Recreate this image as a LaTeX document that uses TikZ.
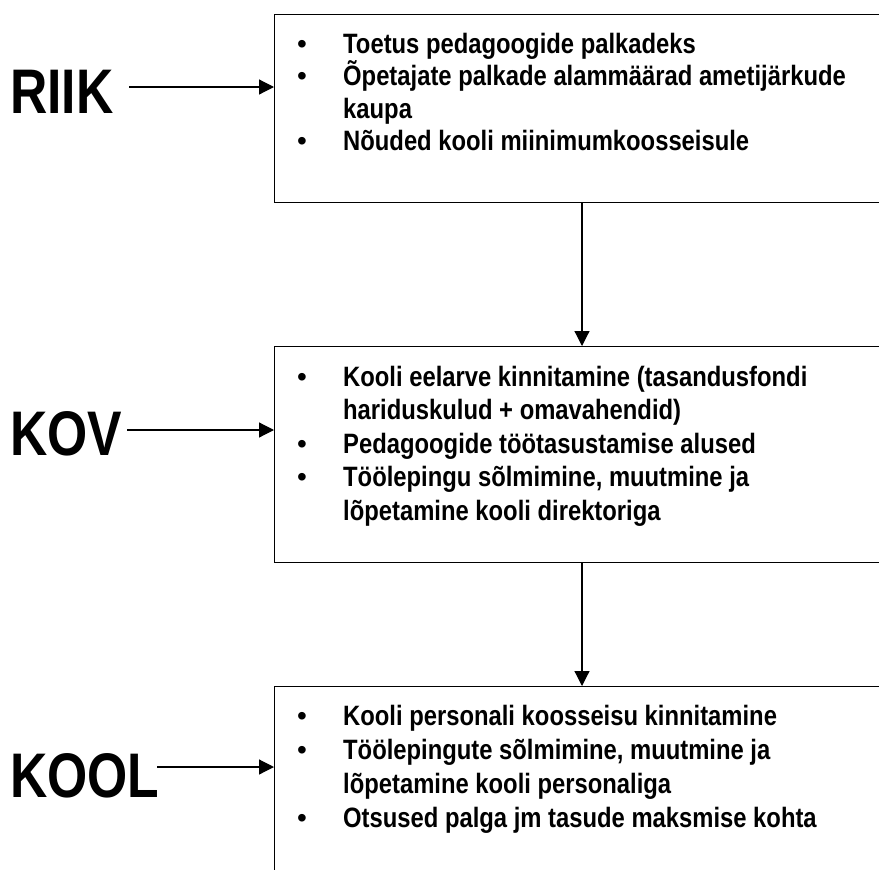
\documentclass[tikz,border=0pt]{standalone}
\usepackage{fontspec}
\usetikzlibrary{arrows.meta}
\newfontfamily\bodyfont[FakeStretch=0.85]{Liberation Sans Bold}
\newfontfamily\labelfont[FakeStretch=0.82]{Liberation Sans Bold}
\newfontfamily\bulletfont{Liberation Sans}
\newcommand\bitem[1]{\hbox{\makebox[46pt][l]{\bulletfont •}\bodyfont #1}}
\newcommand\bcont[1]{\hbox{\hspace*{46pt}\bodyfont #1}}
\newcommand\blist[2]{\vtop{\baselineskip=#1\lineskiplimit=-100pt\lineskip=0pt #2}}
\tikzset{
  levelbox/.style={draw, line width=1.2pt, anchor=north west, inner sep=0pt, minimum width=700pt},
  levellabel/.style={anchor=base west, inner sep=0pt, font=\fontsize{63pt}{63pt}\labelfont},
  itemtext/.style={anchor=base west, inner sep=0pt, font=\fontsize{28pt}{33pt}\selectfont},
  arr/.style={line width=1.2pt, -{Triangle[length=15pt,width=15pt]}}
}
\begin{document}
\begin{tikzpicture}[x=1pt,y=-1pt]
\useasboundingbox (0,0) rectangle (879,870);
\clip (0,0) rectangle (879,870);
% boxes
\node[levelbox, minimum height=188pt] (riikbox) at (274,14) {};
\node[levelbox, minimum height=216pt] (kovbox) at (274,346) {};
\node[levelbox, minimum height=300pt] (koolbox) at (274,686) {};
% labels
\node[levellabel] (riik) at (10,113) {RIIK};
\node[levellabel] (kov) at (10,455) {KOV};
\node[levellabel] (kool) at (10,797) {KOOL};
% texts
\node[itemtext] (riiktext) at (297,53) {\blist{32.5pt}{%
  \bitem{Toetus pedagoogide palkadeks}
  \bitem{Õpetajate palkade alammäärad ametijärkude}
  \bcont{kaupa}
  \bitem{Nõuded kooli miinimumkoosseisule}}};
\node[itemtext] (kovtext) at (297,386) {\blist{33.5pt}{%
  \bitem{Kooli eelarve kinnitamine (tasandusfondi}
  \bcont{hariduskulud + omavahendid)}
  \bitem{Pedagoogide töötasustamise alused}
  \bitem{Töölepingu sõlmimine, muutmine ja}
  \bcont{lõpetamine kooli direktoriga}}};
\node[itemtext] (kooltext) at (297,725) {\blist{34pt}{%
  \bitem{Kooli personali koosseisu kinnitamine}
  \bitem{Töölepingute sõlmimine, muutmine ja}
  \bcont{lõpetamine kooli personaliga}
  \bitem{Otsused palga jm tasude maksmise kohta}}};
% connectors
\coordinate (riikout) at (129,87);
\coordinate (kovout) at (127,430);
\coordinate (koolout) at (157,767);
\coordinate (col) at (582,0);
\draw[arr] (riikout) -- (riikout -| riikbox.west);
\draw[arr] (kovout) -- (kovout -| kovbox.west);
\draw[arr] (koolout) -- (koolout -| koolbox.west);
\draw[arr] (riikbox.south -| col) -- (kovbox.north -| col);
\draw[arr] (kovbox.south -| col) -- (koolbox.north -| col);
\end{tikzpicture}
\end{document}
